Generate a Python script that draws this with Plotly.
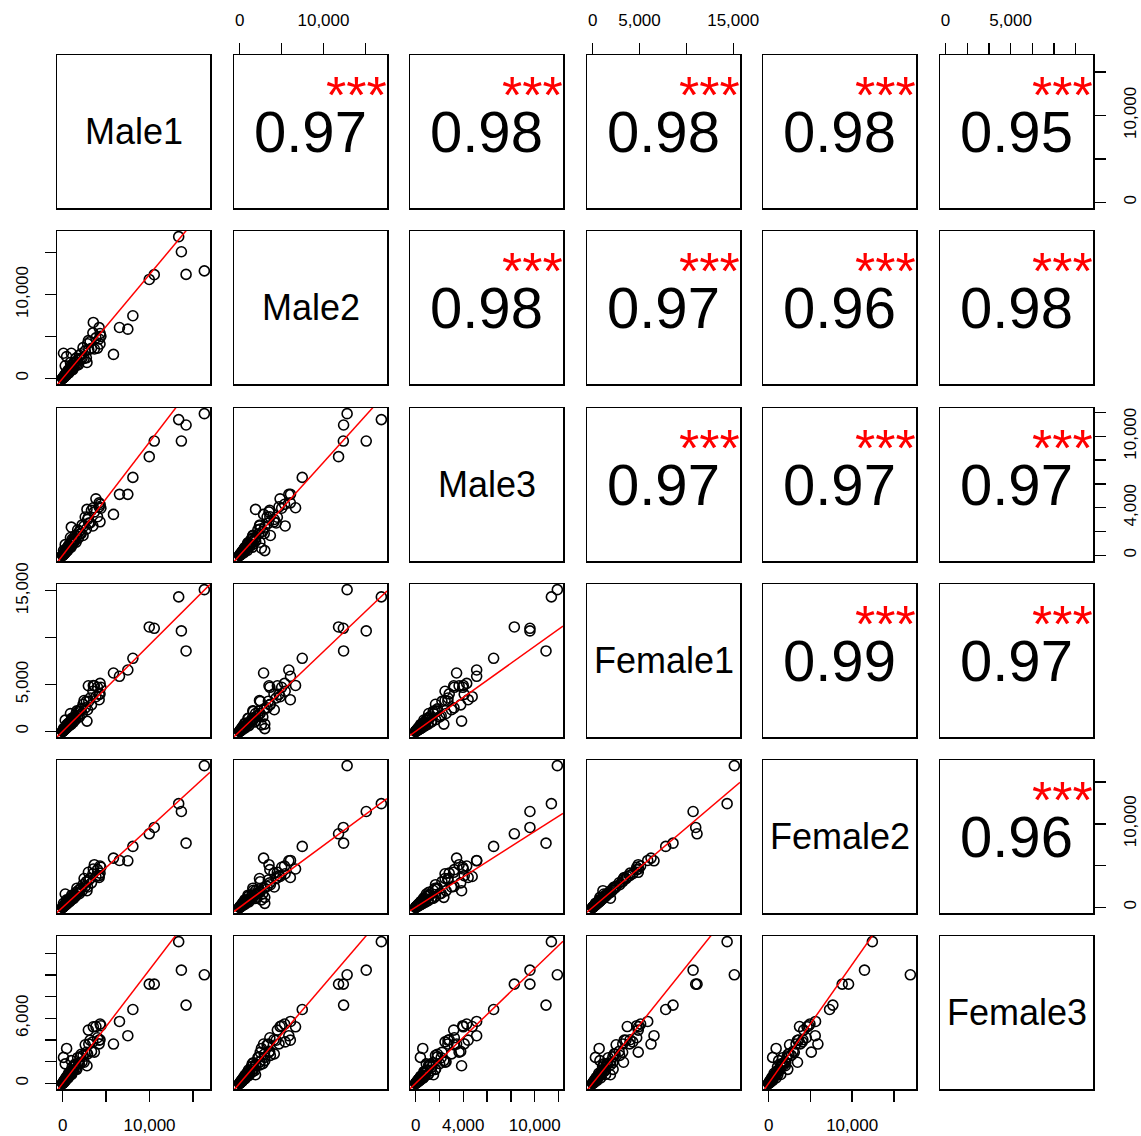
import numpy as np
import plotly.graph_objects as go

W, H = 1141, 1136
names = ["Male1", "Male2", "Male3", "Female1", "Female2", "Female3"]

# ---- data ----
male1 = [16300, 13350, 13660, 14200, 9965, 10540, 8080, 6540, 7500, 5850,
         4310, 3530, 2960, 4200, 4300, 2800, 1000, 460, 100, 300, 900,
         5, 15, 25, 35, 45, 60, 75, 90, 105, 120, 140, 160, 180, 200, 225, 250,
         275, 300, 330, 360, 390, 420, 455, 490, 525, 560, 600, 640, 680, 720, 770, 820,
         870, 920, 980, 1040, 1100, 1170, 1240, 1310, 1390, 1470, 1550, 1640, 1730, 1820, 1920, 2020,
         2130, 2240, 2350, 2470, 2600, 2730, 2870, 3010, 3160, 3320, 3480, 3650, 3830, 4010, 4200, 4400]
male2 = [12820, 16900, 15100, 12400, 11800, 12370, 7470, 6070, 5870, 2860,
         5360, 6670, 4500, 4700, 4100, 1900, 3000, 2600, 3000, 1500, 1900,
         7, 16, 39, 34, 57, 54, 108, 103, 145, 130, 218, 154, 227, 180, 324, 285,
         380, 324, 515, 346, 491, 378, 655, 559, 725, 605, 936, 614, 857, 648, 1109, 935,
         1201, 994, 1529, 998, 1386, 1053, 1786, 1493, 1918, 1588, 2418, 1574, 2180, 1638, 2765, 2303,
         2939, 2419, 3666, 2371, 3276, 2457, 4133, 3431, 4361, 3586, 5429, 3504, 4826, 3609, 6048, 5016]
male3 = [11900, 11400, 9600, 10950, 8290, 9600, 6550, 5125, 5125, 3440,
         4290, 4000, 3200, 4080, 2820, 3860, 2370, 600, 400, 900, 1500,
         4, 17, 18, 35, 56, 49, 79, 81, 90, 137, 99, 160, 223, 162, 236, 225,
         237, 342, 234, 360, 484, 340, 478, 441, 452, 638, 426, 640, 843, 583, 809, 738,
         748, 1049, 696, 1040, 1364, 948, 1302, 1179, 1195, 1676, 1101, 1640, 2145, 1474, 2016, 1818,
         1832, 2554, 1669, 2470, 3224, 2211, 3014, 2709, 2718, 3785, 2471, 3650, 4749, 3248, 4410, 3960]
female1 = [15120, 14350, 10720, 8580, 11140, 11000, 7800, 5880, 6550, 6230,
           5120, 4900, 4870, 3950, 4000, 1100, 780, 700, 300, 1200, 1900,
           6, 13, 31, 47, 44, 70, 61, 97, 118, 102, 173, 214, 174, 235, 182, 268,
           311, 255, 406, 481, 377, 492, 367, 524, 592, 476, 738, 853, 657, 844, 620, 877,
           981, 783, 1206, 1387, 1063, 1372, 998, 1401, 1566, 1251, 1908, 2187, 1671, 2134, 1546, 2161,
           2400, 1907, 2892, 3295, 2512, 3203, 2310, 3219, 3562, 2826, 4283, 4869, 3700, 4704, 3381, 4706]
female2 = [16970, 12420, 11480, 7690, 8810, 9570, 7300, 5620, 5580, 5900,
           4950, 4600, 4200, 3800, 4100, 2000, 1200, 900, 480, 1600, 1100,
           6, 14, 29, 49, 44, 67, 65, 99, 114, 106, 163, 225, 174, 226, 193, 273,
           302, 265, 382, 505, 377, 472, 389, 534, 574, 495, 694, 896, 657, 810, 657, 895,
           952, 814, 1134, 1456, 1063, 1317, 1058, 1429, 1519, 1301, 1794, 2296, 1671, 2049, 1639, 2204,
           2328, 1983, 2718, 3460, 2512, 3075, 2449, 3283, 3455, 2939, 4026, 5112, 3700, 4516, 3584, 4800]
female3 = [10020, 13080, 10450, 7226, 9160, 9160, 6820, 5715, 4400, 3630,
           5475, 5225, 4920, 3650, 4030, 1630, 2100, 3225, 2400, 1800, 800,
           6, 13, 28, 28, 62, 63, 71, 109, 132, 107, 154, 126, 247, 210, 214, 303,
           347, 267, 363, 284, 534, 441, 432, 593, 662, 498, 660, 506, 932, 756, 732, 992,
           1096, 819, 1078, 822, 1507, 1229, 1178, 1585, 1751, 1308, 1705, 1296, 2370, 1911, 1824, 2444,
           2684, 1994, 2585, 1951, 3562, 2867, 2727, 3642, 3982, 2955, 3828, 2884, 5247, 4211, 3990, 5324]

# least-squares lines as drawn in the lower panels (row-major order)
fit_slope = [1.24,
             0.952, 0.781,
             0.925, 0.852, 0.907,
             0.955, 0.742, 0.910, 0.953,
             1.050, 0.903, 1.060, 1.080, 1.097]
fit_intercept = [0, 0, 0, 0, 0, 0, 0, 0, 0, 0, 0, 0, 0, 0, 0]

corr_text = ["0.97", "0.98", "0.98", "0.98", "0.95",
             "0.98", "0.97", "0.96", "0.98",
             "0.97", "0.97", "0.97",
             "0.99", "0.97",
             "0.96"]
signif_text = ["***"] * 15

ticks_4 = [0, 5000, 10000, 15000]
ticks_7 = [0, 2000, 4000, 6000, 8000, 10000, 12000]
var_ticks = [ticks_4, ticks_4, ticks_7, ticks_4, ticks_4, ticks_7]

# tick labels of each outer axis
bottom_labels = {0: ["0", "", "10,000", ""],
                 2: ["0", "", "4,000", "", "", "10,000", ""],
                 4: ["0", "", "10,000", ""]}
top_labels = {1: ["0", "", "10,000", ""],
              3: ["0", "5,000", "", "15,000"],
              5: ["0", "", "", "5,000", "", "", ""]}
left_labels = {1: ["0", "", "10,000", ""],
               3: ["0", "5,000", "", "15,000"],
               5: ["0", "", "", "6,000", "", "", ""]}
right_labels = {0: ["0", "", "10,000", ""],
                2: ["0", "", "4,000", "", "", "10,000", ""],
                4: ["0", "", "10,000", ""]}

# ---- layout geometry (pixels) ----
col_px = [(57, 210), (234, 387), (410, 563), (587, 740), (763, 916), (940, 1093)]
row_px = [(55, 208), (231, 384), (408, 561), (584, 737), (760, 913), (936, 1089)]

FONT = "Liberation Sans, Arial, Helvetica, sans-serif"
data = [np.array(v, dtype=float) for v in (male1, male2, male3, female1, female2, female3)]
ranges = []
for v in data:
    lo, hi = v.min(), v.max()
    pad = 0.04 * (hi - lo)
    ranges.append([lo - pad, hi + pad])

fig = go.Figure()
layout = dict(width=W, height=H, margin=dict(l=0, r=0, t=0, b=0, autoexpand=False), autosize=False,
              paper_bgcolor="white", plot_bgcolor="white", showlegend=False, template=None,
              font=dict(family=FONT, color="black"))
annotations = []

tick_common = dict(ticks="outside", ticklen=11, tickwidth=1.4, tickcolor="black",
                   tickfont=dict(family=FONT, size=17, color="black"))

ci = 0
li = 0
for r in range(6):
    for c in range(6):
        k = r * 6 + c + 1
        xs = "" if k == 1 else str(k)
        x0, x1 = col_px[c]
        y0, y1 = row_px[r]
        xa = dict(domain=[x0 / W, x1 / W], range=ranges[c], anchor="y" + xs, automargin=False,
                  showline=True, mirror=True, linecolor="black", linewidth=1.5,
                  showgrid=False, zeroline=False, ticks="", showticklabels=False, fixedrange=True)
        ya = dict(domain=[1 - y1 / H, 1 - y0 / H], range=ranges[r], anchor="x" + xs, automargin=False,
                  showline=True, mirror=True, linecolor="black", linewidth=1.5,
                  showgrid=False, zeroline=False, ticks="", showticklabels=False, fixedrange=True)
        if r == 5 and c in bottom_labels:
            xa.update(tick_common, side="bottom", tickvals=var_ticks[c], ticktext=bottom_labels[c],
                      showticklabels=True, ticklabelstandoff=9)
        if r == 0 and c in top_labels:
            xa.update(tick_common, side="top", tickvals=var_ticks[c], ticktext=top_labels[c],
                      showticklabels=True, ticklabelstandoff=10)
        if c == 0 and r in left_labels:
            ya.update(tick_common, side="left", tickvals=var_ticks[r], ticktext=left_labels[r],
                      showticklabels=True, tickangle=-90, ticklabelstandoff=10)
        if c == 5 and r in right_labels:
            ya.update(tick_common, side="right", tickvals=var_ticks[r], ticktext=right_labels[r],
                      showticklabels=True, tickangle=-90, ticklabelstandoff=10)
        layout["xaxis" + xs] = xa
        layout["yaxis" + xs] = ya

        if r > c:
            xv, yv = data[c], data[r]
            fig.add_trace(go.Scatter(x=xv, y=yv, mode="markers", xaxis="x" + xs, yaxis="y" + xs,
                                     marker=dict(symbol="circle-open", size=10, color="black",
                                                 line=dict(width=1.6, color="black")),
                                     hoverinfo="skip", cliponaxis=True))
            lx = np.array(ranges[c])
            fig.add_trace(go.Scatter(x=lx, y=fit_intercept[li] + fit_slope[li] * lx, mode="lines",
                                     xaxis="x" + xs, yaxis="y" + xs,
                                     line=dict(color="red", width=1.5), hoverinfo="skip"))
            li += 1
        else:
            fig.add_trace(go.Scatter(x=[], y=[], mode="markers", xaxis="x" + xs, yaxis="y" + xs,
                                     hoverinfo="skip"))
            if r == c:
                annotations.append(dict(x=0.5, y=0.5, xref="x" + xs + " domain", yref="y" + xs + " domain",
                                        xanchor="center", yanchor="middle",
                                        text=names[r], showarrow=False,
                                        font=dict(family=FONT, size=36, color="black")))
            else:
                annotations.append(dict(x=0.5, y=0.5, xref="x" + xs + " domain", yref="y" + xs + " domain",
                                        xanchor="center", yanchor="middle",
                                        text=corr_text[ci], showarrow=False,
                                        font=dict(family=FONT, size=58, color="black")))
                annotations.append(dict(x=0.8, y=0.74, xref="x" + xs + " domain", yref="y" + xs + " domain",
                                        xanchor="center", yanchor="middle",
                                        text=signif_text[ci], showarrow=False,
                                        font=dict(family=FONT, size=52, color="red")))
                ci += 1

layout["annotations"] = annotations
fig.update_layout(**layout)
fig.write_html("out.html", config={"displayModeBar": False, "staticPlot": True},
               post_script="document.body.style.margin='0px';")
